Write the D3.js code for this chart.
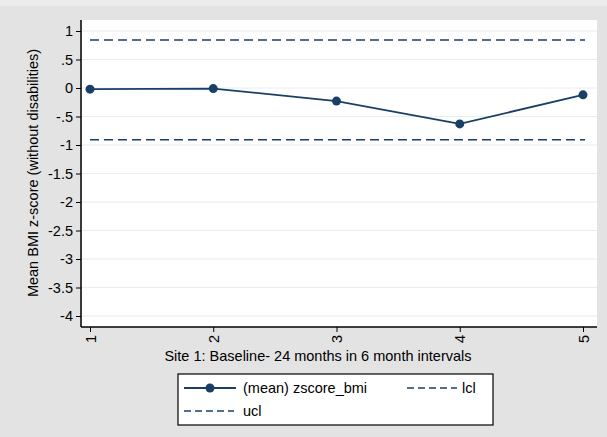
<!DOCTYPE html>
<html><head><meta charset="utf-8">
<script src="https://cdn.jsdelivr.net/npm/d3@7"></script>
<style>body{margin:0;background:#e5e5e5}text{font-family:"Liberation Sans",Arial,sans-serif;fill:#000}</style>
</head><body>
<svg id="chart" width="607" height="437"></svg>
<script>
const periods = [1, 2, 3, 4, 5];
const meanZ = [-0.02, -0.01, -0.23, -0.63, -0.12];
const lcl = -0.91;
const ucl = 0.84;
const yTicks = [1, 0.5, 0, -0.5, -1, -1.5, -2, -2.5, -3, -3.5, -4];
const yLabels = ["1", ".5", "0", "-.5", "-1", "-1.5", "-2", "-2.5", "-3", "-3.5", "-4"];

const svg = d3.select("#chart");
const navy = "#1a3f66";
const fs = 14.5;

svg.append("rect").attr("width", 607).attr("height", 437).attr("fill", "#e3e3e3");
svg.append("rect").attr("width", 607).attr("height", 6).attr("fill", "#ececec");
svg.append("rect").attr("x", 82).attr("y", 20).attr("width", 515).attr("height", 307).attr("fill", "#fff");

const x = d3.scaleLinear().domain([1, 5]).range([90, 583]);
const y = d3.scaleLinear().domain([-4, 1]).range([316, 31]);

// gridlines
svg.selectAll(".grid").data(yTicks).join("line")
  .attr("x1", 82).attr("x2", 597)
  .attr("y1", d => y(d)).attr("y2", d => y(d))
  .attr("stroke", "#e6edf3").attr("stroke-width", 1);

// y axis
const yAxis = svg.append("g").attr("transform", "translate(81,0)")
  .call(d3.axisLeft(y).tickValues(yTicks).tickFormat((d, i) => yLabels[i]).tickSize(5).tickPadding(3));
yAxis.select(".domain").attr("d", "M0,20V327").attr("stroke-width", 1.5);
yAxis.selectAll("text").attr("font-size", fs);

// x axis
const xAxis = svg.append("g").attr("transform", "translate(0,327)")
  .call(d3.axisBottom(x).tickValues(periods).tickFormat(d3.format("d")).tickSize(5));
xAxis.select(".domain").attr("d", "M81,0H597").attr("stroke-width", 1.5);
xAxis.selectAll("text").attr("font-size", fs)
  .attr("transform", "rotate(-90)").attr("text-anchor", "end").attr("x", -8).attr("y", 0).attr("dy", "0.35em");

// axis titles
svg.append("text").attr("x", 318).attr("y", 361).attr("text-anchor", "middle").attr("font-size", fs)
  .text("Site 1: Baseline- 24 months in 6 month intervals");
svg.append("text").attr("transform", "translate(38,173) rotate(-90)").attr("text-anchor", "middle").attr("font-size", fs)
  .text("Mean BMI z-score (without disabilities)");

// control limits
[lcl, ucl].forEach(v => {
  svg.append("line").attr("x1", 90).attr("x2", 585).attr("y1", y(v)).attr("y2", y(v))
    .attr("stroke", navy).attr("stroke-width", 1.5).attr("stroke-dasharray", "9,5");
});

// mean line
svg.append("path").datum(periods.map((p, i) => [p, meanZ[i]]))
  .attr("d", d3.line().x(d => x(d[0])).y(d => y(d[1])))
  .attr("fill", "none").attr("stroke", navy).attr("stroke-width", 1.8);
svg.selectAll(".pt").data(periods).join("circle")
  .attr("cx", d => x(d)).attr("cy", (d, i) => y(meanZ[i])).attr("r", 4.5).attr("fill", navy);

// legend
const lg = svg.append("g");
lg.append("rect").attr("x", 178).attr("y", 374).attr("width", 315).attr("height", 51)
  .attr("fill", "#fff").attr("stroke", "#000").attr("stroke-width", 1.2);
lg.append("line").attr("x1", 184).attr("x2", 236).attr("y1", 388).attr("y2", 388).attr("stroke", navy).attr("stroke-width", 1.8);
lg.append("circle").attr("cx", 210).attr("cy", 388).attr("r", 4.5).attr("fill", navy);
lg.append("text").attr("x", 243).attr("y", 393).attr("font-size", fs).text("(mean) zscore_bmi");
lg.append("line").attr("x1", 407).attr("x2", 457).attr("y1", 388).attr("y2", 388).attr("stroke", navy).attr("stroke-width", 1.5).attr("stroke-dasharray", "7,4");
lg.append("text").attr("x", 462).attr("y", 393).attr("font-size", fs).text("lcl");
lg.append("line").attr("x1", 184).attr("x2", 234).attr("y1", 411).attr("y2", 411).attr("stroke", navy).attr("stroke-width", 1.5).attr("stroke-dasharray", "7,4");
lg.append("text").attr("x", 243).attr("y", 416).attr("font-size", fs).text("ucl");
</script>
</body></html>
